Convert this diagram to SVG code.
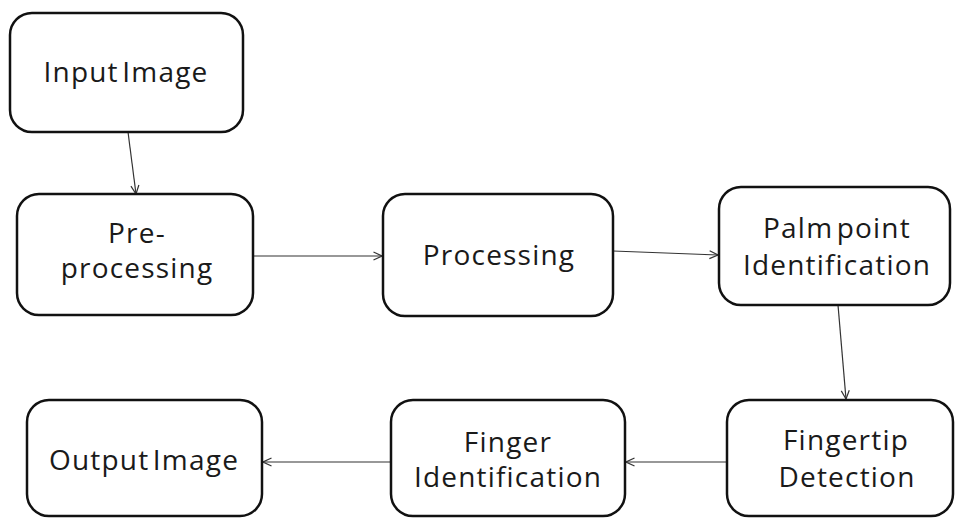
<svg xmlns="http://www.w3.org/2000/svg" width="955" height="518" viewBox="0 0 955 518">
<defs>
<style>
.box{fill:#fff;stroke:#111;stroke-width:2.5}
.t{font-family:"Open Sans","Noto Sans",sans-serif;font-size:28px;letter-spacing:1.2px;word-spacing:-5px;fill:#1a1a1a;text-anchor:middle}
.c{stroke:#333;stroke-width:1.2;fill:none;marker-end:url(#ah)}
</style>
<marker id="ah" viewBox="0 0 10 10" refX="9.5" refY="5" markerWidth="10" markerHeight="10" markerUnits="userSpaceOnUse" orient="auto">
<path d="M1,1 L9.5,5 L1,9" fill="none" stroke="#333" stroke-width="1.2"/>
</marker>
</defs>
<rect width="955" height="518" fill="#fff"/>
<g id="connectors">
<line class="c" x1="128" y1="132" x2="136" y2="194"/>
<line class="c" x1="253" y1="256" x2="382" y2="256"/>
<line class="c" x1="613" y1="251" x2="718" y2="255"/>
<line class="c" x1="838" y1="305" x2="846" y2="399"/>
<line class="c" x1="727" y1="462" x2="626" y2="462"/>
<line class="c" x1="391" y1="462" x2="263" y2="462"/>
</g>
<g id="input">
<rect class="box" x="10" y="13" width="233" height="119" rx="22"/>
<text class="t" x="126" y="82">Input Image</text>
</g>
<g id="preprocessing">
<rect class="box" x="17" y="194" width="236" height="121" rx="22"/>
<text class="t" x="137" y="243">Pre-</text>
<text class="t" x="137" y="278">processing</text>
</g>
<g id="processing">
<rect class="box" x="383" y="194" width="230" height="122" rx="22"/>
<text class="t" x="499" y="265">Processing</text>
</g>
<g id="palm">
<rect class="box" x="719" y="187" width="231" height="118" rx="22"/>
<text class="t" x="837" y="238">Palm point</text>
<text class="t" x="837" y="275">Identification</text>
</g>
<g id="fingertip">
<rect class="box" x="727" y="400" width="226" height="116" rx="22"/>
<text class="t" x="846" y="450">Fingertip</text>
<text class="t" x="847" y="487">Detection</text>
</g>
<g id="finger">
<rect class="box" x="391" y="400" width="234" height="116" rx="22"/>
<text class="t" x="508" y="452">Finger</text>
<text class="t" x="508" y="487">Identification</text>
</g>
<g id="output">
<rect class="box" x="27" y="400" width="235" height="116" rx="22"/>
<text class="t" x="144" y="470">Output Image</text>
</g>
</svg>
